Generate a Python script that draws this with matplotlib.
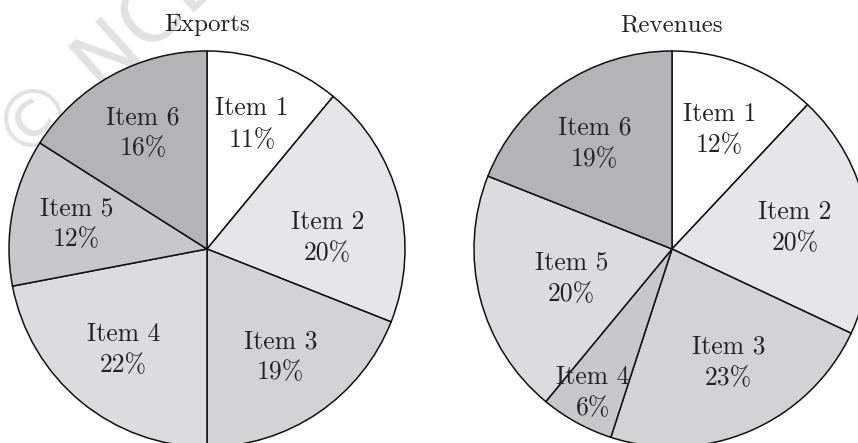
import numpy as np
import matplotlib
matplotlib.use('Agg')
import matplotlib.pyplot as plt

plt.rcParams['font.family'] = ['cmr10', 'DejaVu Serif']
plt.rcParams['axes.formatter.use_mathtext'] = True

# data
items = ['Item 1', 'Item 2', 'Item 3', 'Item 4', 'Item 5', 'Item 6']
exports = [11, 20, 19, 22, 12, 16]
revenues = [12, 20, 23, 6, 20, 19]

# styles
exp_colors = ['#ffffff', '#e6e6e8', '#d3d3d5', '#dcdcde', '#c8c8ca', '#b4b4b6']
rev_colors = ['#ffffff', '#e6e6e8', '#d3d3d5', '#c8c8ca', '#dcdcde', '#b4b4b6']
exp_lab_r = [0.67, 0.61, 0.66, 0.66, 0.67, 0.67]
exp_lab_da = [0, -9, 0, 0, 0, 0]
rev_lab_r = [0.65, 0.63, 0.64, 0.83, 0.53, 0.66]
rev_lab_da = [0, -1, 3, 0, 2, 2]

W, H = 858, 443
fig = plt.figure(figsize=(W / 100, H / 100), dpi=100)

R = 198
def make_ax(cx, cy):
    ax = fig.add_axes([(cx - R) / W, (H - cy - R) / H, 2 * R / W, 2 * R / H])
    ax.patch.set_visible(False)
    return ax

def draw_pie(ax, vals, colors, lab_r, lab_da):
    wedges, _ = ax.pie(vals, colors=colors, startangle=90, counterclock=False,
                       radius=1.0,
                       wedgeprops=dict(edgecolor='#111111', linewidth=1.1))
    for w, name, v, r, da in zip(wedges, items, vals, lab_r, lab_da):
        ang = np.deg2rad((w.theta1 + w.theta2) / 2 + da)
        ax.text(r * np.cos(ang), r * np.sin(ang), f'{name}\n{v}%',
                ha='center', va='center', fontsize=18.5, color='#222222',
                linespacing=1.4, zorder=5)
    ax.set_xlim(-1, 1)
    ax.set_ylim(-1, 1)
    ax.set_aspect('auto')
    ax.axis('off')

ax1 = make_ax(207, 249)
# faint watermark behind the pie
ax1.text(-1.0, 0.50, '\u00a9 NCERT', family='DejaVu Sans', fontsize=58,
         color='#e2e2e2', rotation=42, ha='left', va='center', zorder=0,
         rotation_mode='anchor')
draw_pie(ax1, exports, exp_colors, exp_lab_r, exp_lab_da)

ax2 = make_ax(672, 249)
draw_pie(ax2, revenues, rev_colors, rev_lab_r, rev_lab_da)

fig.text(207 / W, 1 - 25 / H, 'Exports', ha='center', va='center', fontsize=18, color='#222222')
fig.text(672 / W, 1 - 25 / H, 'Revenues', ha='center', va='center', fontsize=18, color='#222222')

fig.savefig('out.png', dpi=100)
